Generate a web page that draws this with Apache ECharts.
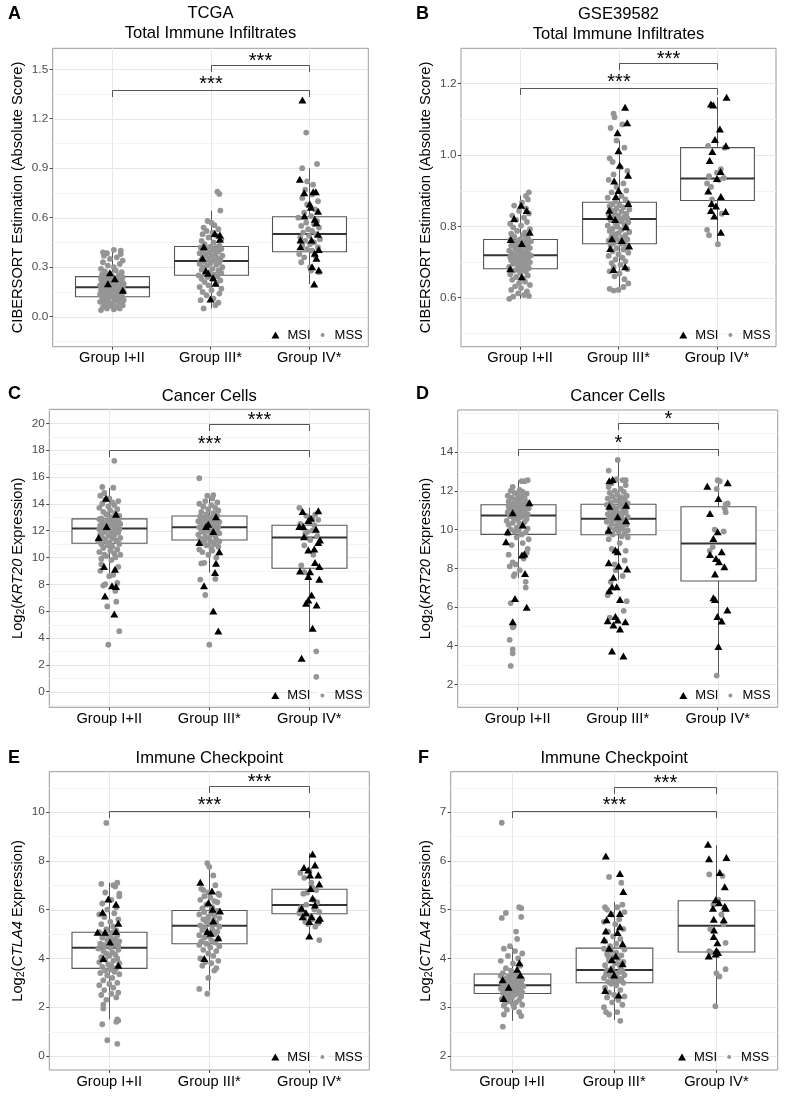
<!DOCTYPE html>
<html><head><meta charset="utf-8">
<script src="https://cdn.jsdelivr.net/npm/echarts@6/dist/echarts.min.js"></script>
<style>html,body{margin:0;padding:0;background:#fff}#c{width:792px;height:1102px}</style>
</head><body><div id="c"></div>
<script>
// ---------------- DATA ----------------
const CATEGORIES = ['Group I+II', 'Group III*', 'Group IV*'];
const LEGEND_NAMES = ['MSI', 'MSS'];

// y tick labels (major) and minor grid values
const A_TICKS = [0, 0.3, 0.6, 0.9, 1.2, 1.5];
const A_MINOR = [-0.15, 0.15, 0.45, 0.75, 1.05, 1.35];
const B_TICKS = [0.6, 0.8, 1.0, 1.2];
const B_MINOR = [0.5, 0.7, 0.9, 1.1];
const C_TICKS = [0, 2, 4, 6, 8, 10, 12, 14, 16, 18, 20];
const C_MINOR = [-1, 1, 3, 5, 7, 9, 11, 13, 15, 17, 19, 21];
const D_TICKS = [2, 4, 6, 8, 10, 12, 14];
const D_MINOR = [1, 3, 5, 7, 9, 11, 13, 15, 16];
const E_TICKS = [0, 2, 4, 6, 8, 10];
const E_MINOR = [1, 3, 5, 7, 9, 11];
const F_TICKS = [2, 3, 4, 5, 6, 7];
const F_MINOR = [2.5, 3.5, 4.5, 5.5, 6.5, 7.5];

// box statistics per group: [lower whisker, Q1, median, Q3, upper whisker]
const A_BOX = [[0.04, 0.121, 0.178, 0.243, 0.405], [0.05, 0.251, 0.338, 0.425, 0.643], [0.198, 0.394, 0.501, 0.606, 0.90]];
const B_BOX = [[0.597, 0.681, 0.719, 0.763, 0.886], [0.62, 0.751, 0.820, 0.867, 1.04], [0.749, 0.872, 0.934, 1.020, 1.161]];
const C_BOX = [[8.6, 11.06, 12.15, 12.87, 15.16], [8.87, 11.30, 12.25, 13.09, 14.6], [4.6, 9.19, 11.48, 12.40, 13.71]];
const D_BOX = [[7.5, 9.75, 10.73, 11.28, 12.55], [7.4, 9.73, 10.56, 11.31, 13.62], [2.48, 7.34, 9.28, 11.18, 12.55]];
const E_BOX = [[1.5, 3.59, 4.44, 5.07, 7.10], [2.68, 4.60, 5.34, 5.96, 7.90], [4.89, 5.83, 6.19, 6.83, 8.31]];
const F_BOX = [[2.72, 3.28, 3.45, 3.68, 4.25], [2.74, 3.50, 3.76, 4.21, 5.16], [3.01, 4.13, 4.67, 5.18, 6.32]];

// significance comparisons: [group from, group to, label]
const A_SIG = [[2, 3, '***'], [1, 3, '***']];
const B_SIG = [[2, 3, '***'], [1, 3, '***']];
const C_SIG = [[2, 3, '***'], [1, 3, '***']];
const D_SIG = [[2, 3, '*'], [1, 3, '*']];
const E_SIG = [[2, 3, '***'], [1, 3, '***']];
const F_SIG = [[2, 3, '***'], [1, 3, '***']];

// points: [group, jitter offset, value]
const A_MSI = [
[1,-0.02,0.267],[1,0.03,0.23],[1,0.11,0.16],[1,-0.04,0.20],
[2,0.044,0.505],[2,0.095,0.469],[2,-0.068,0.424],[2,-0.081,0.354],[2,-0.047,0.279],[2,0.027,0.236],[2,0.051,0.202],[2,0.0,0.107],[2,0.095,0.495],[2,-0.024,0.263],
[3,-0.068,1.314],[3,-0.095,0.833],[3,-0.05,0.752],[3,0.041,0.758],[3,0.068,0.758],[3,0.007,0.683],[3,0.017,0.663],[3,0.091,0.639],[3,-0.047,0.61],[3,0.057,0.59],[3,0.074,0.57],[3,0.091,0.499],[3,-0.088,0.465],[3,0.024,0.465],[3,-0.088,0.424],[3,0.098,0.408],[3,0.057,0.384],[3,0.074,0.354],[3,0.03,0.303],[3,0.098,0.283],[3,0.051,0.198]
];
const A_MSS = [
[1,-0.11,0.04],[1,0.02,0.045],[1,-0.05,0.05],[1,0.08,0.05],[1,-0.09,0.06],[1,0.05,0.06],[1,-0.02,0.065],[1,0.11,0.07],[1,-0.07,0.075],[1,0.01,0.08],[1,0.09,0.085],[1,-0.12,0.09],[1,-0.03,0.09],[1,0.06,0.095],[1,-0.08,0.10],[1,0.12,0.10],[1,0.03,0.105],[1,-0.05,0.11],[1,0.08,0.115],[1,-0.10,0.12],
[1,0.00,0.12],[1,0.10,0.125],[1,-0.06,0.13],[1,0.05,0.13],[1,-0.12,0.135],[1,-0.02,0.14],[1,0.07,0.14],[1,-0.09,0.145],[1,0.03,0.15],[1,0.12,0.15],[1,-0.04,0.155],[1,-0.11,0.16],[1,0.09,0.16],[1,0.01,0.165],[1,-0.07,0.17],[1,0.06,0.17],[1,-0.01,0.175],[1,0.11,0.175],[1,-0.10,0.18],[1,0.04,0.18],
[1,-0.05,0.185],[1,0.08,0.19],[1,-0.12,0.19],[1,0.02,0.195],[1,-0.08,0.20],[1,0.12,0.20],[1,-0.02,0.205],[1,0.06,0.21],[1,-0.10,0.21],[1,0.00,0.215],[1,0.10,0.22],[1,-0.06,0.22],[1,0.04,0.225],[1,-0.11,0.23],[1,-0.03,0.23],[1,0.08,0.235],[1,-0.08,0.235],[1,0.11,0.24],[1,0.01,0.24],[1,-0.05,0.245],
[1,0.07,0.25],[1,-0.10,0.255],[1,-0.01,0.26],[1,0.10,0.27],[1,-0.07,0.275],[1,0.04,0.28],[1,-0.11,0.29],[1,0.02,0.30],[1,-0.04,0.31],[1,0.08,0.32],[1,-0.09,0.33],[1,0.11,0.34],[1,-0.02,0.35],[1,0.05,0.36],[1,-0.08,0.37],[1,0.09,0.38],[1,-0.05,0.385],[1,-0.09,0.39],[1,0.09,0.40],[1,0.02,0.405],
[2,0.07,0.758],[2,0.09,0.744],[2,0.10,0.643],[2,-0.07,0.05],[2,0.08,0.085],[2,0.05,0.07],
[2,-0.10,0.10],[2,0.03,0.11],[2,-0.04,0.13],[2,0.09,0.14],[2,-0.08,0.15],[2,0.01,0.16],[2,0.11,0.17],[2,-0.11,0.18],[2,-0.02,0.19],[2,0.06,0.20],[2,-0.06,0.21],[2,0.10,0.22],[2,-0.09,0.23],[2,0.02,0.23],[2,-0.03,0.24],[2,0.07,0.245],
[2,-0.12,0.25],[2,0.04,0.255],[2,-0.05,0.26],[2,0.11,0.265],[2,-0.01,0.27],[2,0.08,0.28],[2,-0.09,0.285],[2,0.02,0.29],[2,-0.07,0.30],[2,0.12,0.30],[2,-0.03,0.31],[2,0.06,0.315],[2,-0.11,0.32],[2,0.00,0.325],[2,0.09,0.33],[2,-0.06,0.335],[2,0.04,0.34],[2,-0.10,0.34],
[2,0.10,0.345],[2,-0.02,0.35],[2,0.07,0.355],[2,-0.08,0.36],[2,0.01,0.365],[2,0.12,0.37],[2,-0.05,0.375],[2,0.05,0.38],[2,-0.11,0.385],[2,-0.01,0.39],[2,0.08,0.395],[2,-0.07,0.40],[2,0.03,0.405],[2,0.11,0.41],[2,-0.04,0.415],[2,0.06,0.42],[2,-0.10,0.42],[2,0.00,0.425],
[2,0.09,0.43],[2,-0.06,0.44],[2,0.03,0.45],[2,-0.09,0.46],[2,0.11,0.47],[2,-0.02,0.48],[2,0.06,0.49],[2,-0.08,0.50],[2,0.02,0.51],[2,-0.04,0.52],[2,0.08,0.53],[2,-0.07,0.54],[2,0.04,0.555],[2,0.01,0.57],[2,-0.03,0.58],
[3,-0.03,1.116],[3,0.08,0.926],[3,-0.07,0.90],[3,-0.02,0.82],[3,0.04,0.80],[3,-0.08,0.33],[3,0.10,0.27],[3,0.02,0.28],[3,-0.05,0.36],[3,0.06,0.37],[3,-0.10,0.38],[3,0.03,0.40],[3,-0.02,0.41],[3,0.09,0.42],[3,-0.07,0.43],[3,0.01,0.44],[3,0.05,0.45],[3,-0.04,0.46],[3,0.11,0.47],[3,-0.09,0.48],[3,0.00,0.49],[3,0.07,0.50],[3,-0.06,0.51],[3,0.03,0.52],[3,-0.01,0.53],[3,0.10,0.54],[3,-0.08,0.55],[3,0.05,0.56],[3,-0.03,0.57],[3,0.08,0.58],[3,-0.11,0.60],[3,0.02,0.61],[3,-0.05,0.63],[3,0.06,0.65],[3,-0.02,0.68],[3,0.09,0.70],[3,-0.07,0.72],[3,0.03,0.74],[3,-0.04,0.77],[3,0.01,0.30]
];

const B_MSI = [
[1,0.01,0.859],[1,0.067,0.844],[1,0.098,0.783],[1,-0.094,0.763],[1,0.017,0.752],[1,-0.10,0.681],[1,0.017,0.659],[1,-0.06,0.822],
[2,0.067,1.133],[2,0.088,1.090],[2,-0.01,1.062],[2,0.0,1.011],[2,0.013,0.971],[2,0.098,0.943],[2,-0.044,0.927],[2,0.0,0.900],[2,0.10,0.864],[2,-0.088,0.827],[2,-0.034,0.819],[2,0.074,0.799],[2,-0.067,0.765],[2,0.034,0.760],[2,0.108,0.745],[2,-0.084,0.738],[2,0.067,0.687],[2,-0.05,0.679],[2,-0.027,0.883],[2,-0.094,0.845],
[3,-0.061,1.142],[3,-0.037,1.139],[3,0.098,1.161],[3,0.03,1.072],[3,-0.02,1.043],[3,0.091,1.025],[3,-0.047,1.009],[3,-0.074,0.984],[3,0.037,0.953],[3,0.0,0.934],[3,-0.088,0.899],[3,0.04,0.883],[3,-0.054,0.864],[3,-0.01,0.857],[3,0.088,0.841],[3,-0.061,0.844],[3,-0.027,0.829],[3,0.04,0.783]
];
const B_MSS = [
[1,-0.11,0.597],[1,-0.07,0.603],[1,0.04,0.608],[1,0.09,0.605],[1,-0.02,0.612],[1,0.07,0.618],[1,-0.09,0.622],[1,0.01,0.627],[1,-0.05,0.632],[1,0.10,0.636],[1,-0.01,0.641],[1,0.05,0.645],[1,-0.08,0.65],[1,0.03,0.654],[1,-0.04,0.658],[1,0.08,0.662],[1,-0.10,0.666],[1,0.00,0.67],[1,0.06,0.673],[1,-0.06,0.676],[1,0.02,0.679],[1,-0.03,0.68],
[1,0.09,0.683],[1,-0.11,0.686],[1,0.04,0.688],[1,-0.02,0.69],[1,0.07,0.693],[1,-0.07,0.695],[1,0.01,0.697],[1,0.10,0.699],[1,-0.05,0.701],[1,0.05,0.703],[1,-0.09,0.705],[1,-0.01,0.707],[1,0.08,0.709],[1,-0.04,0.711],[1,0.03,0.713],[1,-0.10,0.714],[1,0.06,0.715],[1,0.00,0.716],[1,-0.06,0.717],[1,0.11,0.718],[1,0.02,0.719],[1,-0.03,0.72],
[1,0.09,0.722],[1,-0.08,0.724],[1,0.04,0.726],[1,-0.02,0.728],[1,0.07,0.73],[1,-0.11,0.732],[1,0.01,0.734],[1,-0.05,0.737],[1,0.10,0.739],[1,-0.01,0.741],[1,0.05,0.744],[1,-0.09,0.746],[1,0.02,0.748],[1,-0.04,0.75],[1,0.08,0.752],[1,-0.07,0.754],[1,0.03,0.756],[1,0.11,0.758],[1,-0.02,0.76],[1,0.06,0.761],[1,-0.10,0.762],[1,0.00,0.763],
[1,0.08,0.767],[1,-0.06,0.771],[1,0.03,0.775],[1,-0.09,0.779],[1,0.05,0.783],[1,-0.03,0.787],[1,0.10,0.792],[1,-0.07,0.797],[1,0.01,0.802],[1,-0.10,0.807],[1,0.07,0.812],[1,-0.04,0.818],[1,0.04,0.824],[1,-0.08,0.83],[1,0.09,0.836],[1,-0.01,0.843],[1,0.06,0.85],[1,-0.06,0.858],[1,0.02,0.866],[1,0.08,0.875],[1,0.06,0.885],[1,0.09,0.895],
[2,-0.05,1.115],[2,-0.04,1.105],[2,-0.08,1.075],[2,0.04,1.085],[2,-0.06,0.98],[2,-0.02,1.04],[2,0.06,1.02],[2,-0.09,0.99],[2,0.02,0.965],[2,0.09,0.955],[2,-0.05,0.945],[2,-0.10,0.93],[2,0.05,0.92],[2,-0.02,0.91],[2,0.08,0.90],[2,-0.07,0.895],[2,0.03,0.885],[2,-0.11,0.88],[2,0.07,0.875],[2,-0.03,0.87],
[2,0.10,0.865],[2,-0.06,0.862],[2,0.01,0.859],[2,-0.09,0.856],[2,0.05,0.853],[2,-0.02,0.85],[2,0.11,0.847],[2,-0.07,0.844],[2,0.03,0.841],[2,-0.04,0.838],[2,0.08,0.835],[2,-0.10,0.832],[2,0.00,0.829],[2,0.06,0.826],[2,-0.05,0.824],[2,0.09,0.822],[2,-0.01,0.821],[2,0.04,0.82],
[2,-0.08,0.817],[2,0.02,0.814],[2,0.10,0.811],[2,-0.03,0.808],[2,0.06,0.805],[2,-0.11,0.802],[2,-0.01,0.799],[2,0.08,0.796],[2,-0.06,0.793],[2,0.03,0.79],[2,-0.09,0.787],[2,0.11,0.784],[2,0.00,0.781],[2,-0.04,0.778],[2,0.07,0.775],[2,-0.07,0.772],[2,0.04,0.769],[2,-0.02,0.766],[2,0.09,0.763],[2,-0.10,0.76],[2,0.01,0.757],[2,0.06,0.755],[2,-0.05,0.753],[2,0.03,0.751],
[2,-0.08,0.747],[2,0.08,0.743],[2,-0.02,0.739],[2,0.05,0.735],[2,-0.06,0.73],[2,0.10,0.726],[2,0.00,0.722],[2,-0.10,0.717],[2,0.04,0.712],[2,-0.03,0.707],[2,0.07,0.702],[2,-0.07,0.697],[2,0.02,0.692],[2,-0.05,0.686],[2,0.09,0.68],[2,-0.09,0.674],[2,0.01,0.668],[2,-0.04,0.66],[2,0.06,0.652],[2,0.10,0.64],[2,0.05,0.63],[2,-0.09,0.625],[2,-0.05,0.62],[2,0.0,0.622],
[3,-0.09,1.025],[3,0.08,1.02],[3,-0.08,0.94],[3,0.0,0.95],[3,0.07,0.935],[3,-0.10,0.92],[3,-0.05,0.875],[3,0.05,0.835],[3,-0.10,0.79],[3,-0.08,0.775],[3,0.01,0.75],[3,0.02,0.93],[3,-0.06,0.91],[3,0.04,0.96]
];

const C_MSI = [
[1,-0.107,11.48],[1,-0.033,14.41],[1,0.067,13.22],[1,-0.053,9.32],[1,0.057,9.12],[1,0.027,7.88],[1,0.067,7.83],[1,-0.043,7.13],[1,0.05,5.79],[1,-0.027,12.3],
[2,-0.01,12.47],[2,-0.10,11.11],[2,0.067,13.04],[2,0.04,11.93],[2,0.10,10.43],[2,0.067,9.57],[2,0.057,8.87],[2,-0.053,7.88],[2,0.04,6.01],[2,0.09,4.52],[2,-0.033,12.3],
[3,-0.067,13.42],[3,0.09,13.47],[3,0.017,12.92],[3,-0.01,12.75],[3,-0.10,12.30],[3,-0.06,12.30],[3,0.067,12.10],[3,-0.053,11.55],[3,0.107,11.30],[3,0.09,11.11],[3,-0.01,10.56],[3,0.05,10.63],[3,0.057,9.62],[3,0.10,9.32],[3,-0.093,8.99],[3,-0.01,8.57],[3,0.007,8.94],[3,0.10,8.37],[3,0.023,7.20],[3,-0.01,6.83],[3,-0.033,6.58],[3,0.073,6.46],[3,0.033,4.72],[3,-0.077,2.48]
];
const C_MSS = [
[1,0.05,17.2],[1,-0.01,3.5],[1,0.10,4.5],[1,0.07,6.7],[1,-0.02,6.35],[1,0.08,8.1],[1,-0.06,7.9],[1,0.04,15.2],[1,-0.07,15.25],[1,-0.05,14.8],[1,0.02,9.8],[1,-0.08,9.9],[1,-0.08,9.5],[1,0.0,8.6],[1,0.04,8.7],[1,0.09,9.3],[1,-0.04,8.0],[1,0.06,7.5],[1,-0.09,9.0],[1,0.11,10.2],
[1,-0.03,10.1],[1,0.05,10.3],[1,-0.10,10.4],[1,0.01,10.5],[1,0.08,10.6],[1,-0.06,10.7],[1,0.03,10.8],[1,-0.02,10.9],[1,0.10,11.0],[1,-0.08,11.0],[1,0.06,10.0],[1,-0.05,10.2],
[1,0.00,11.1],[1,-0.11,11.2],[1,0.07,11.25],[1,-0.04,11.3],[1,0.03,11.4],[1,0.11,11.45],[1,-0.07,11.5],[1,-0.01,11.6],[1,0.05,11.65],[1,-0.09,11.7],[1,0.02,11.8],[1,0.09,11.85],[1,-0.05,11.9],[1,0.06,12.0],[1,-0.02,12.05],[1,0.10,12.1],[1,-0.10,12.1],[1,0.01,12.15],
[1,-0.06,12.2],[1,0.04,12.25],[1,-0.03,12.3],[1,0.08,12.35],[1,-0.09,12.4],[1,0.00,12.45],[1,0.11,12.5],[1,-0.04,12.55],[1,0.06,12.6],[1,-0.07,12.65],[1,0.02,12.7],[1,0.09,12.75],[1,-0.01,12.8],[1,-0.10,12.85],[1,0.05,12.85],[1,-0.05,12.3],[1,0.03,12.5],[1,0.07,12.7],
[1,-0.08,12.9],[1,0.02,13.0],[1,0.10,13.1],[1,-0.03,13.2],[1,0.06,13.3],[1,-0.06,13.4],[1,0.01,13.5],[1,0.08,13.6],[1,-0.10,13.7],[1,-0.01,13.8],[1,0.05,13.9],[1,-0.07,14.0],[1,0.03,14.1],[1,0.09,14.2],[1,-0.04,14.3],[1,0.00,14.4],[1,-0.09,14.6],[1,0.06,13.0],
[2,-0.10,15.9],[2,0.0,3.5],[2,-0.09,8.35],[2,-0.04,7.2],[2,0.06,8.4],[2,-0.08,9.55],[2,-0.05,9.6],[2,0.04,14.65],[2,-0.02,14.6],[2,0.07,10.0],[2,-0.07,10.4],[2,0.02,10.7],
[2,-0.10,10.6],[2,0.09,10.8],[2,-0.03,10.9],[2,0.05,11.0],[2,-0.08,11.1],[2,0.01,11.15],[2,0.10,11.2],[2,-0.05,11.25],[2,0.03,10.5],[2,-0.01,10.2],
[2,0.07,11.35],[2,-0.09,11.4],[2,0.00,11.5],[2,-0.04,11.55],[2,0.06,11.6],[2,-0.11,11.7],[2,0.03,11.75],[2,0.10,11.8],[2,-0.06,11.9],[2,-0.01,11.95],[2,0.08,12.0],[2,-0.08,12.05],[2,0.02,12.1],[2,-0.03,12.15],[2,0.05,12.2],[2,-0.10,12.25],
[2,0.09,12.3],[2,-0.05,12.35],[2,0.01,12.4],[2,-0.08,12.5],[2,0.06,12.55],[2,-0.02,12.6],[2,0.10,12.65],[2,-0.11,12.7],[2,0.03,12.75],[2,-0.04,12.8],[2,0.07,12.85],[2,-0.07,12.9],[2,0.00,12.95],[2,0.05,13.0],[2,-0.09,13.05],[2,0.08,13.1],
[2,-0.03,13.2],[2,0.04,13.3],[2,-0.08,13.4],[2,0.09,13.5],[2,-0.01,13.6],[2,0.06,13.7],[2,-0.06,13.8],[2,0.02,13.9],[2,-0.10,14.0],[2,0.08,14.1],[2,-0.04,14.2],[2,0.03,14.4],
[3,0.07,3.0],[3,0.07,1.1],[3,-0.08,9.4],[3,-0.05,8.9],[3,-0.10,13.7],[3,0.06,13.2],[3,0.03,12.0],[3,-0.04,11.8],[3,0.0,12.6],[3,0.05,12.4],[3,-0.07,12.2],[3,0.08,11.6],[3,-0.02,11.9],[3,0.03,12.9],[3,-0.03,13.1],[3,0.09,12.8],[3,-0.09,12.5],[3,0.01,11.3],[3,-0.05,10.9],[3,0.04,10.2]
];

const D_MSI = [
[1,0.117,11.38],[1,-0.05,10.87],[1,0.05,10.23],[1,-0.10,9.89],[1,-0.117,9.37],[1,0.067,8.73],[1,0.043,8.68],[1,0.073,7.73],[1,-0.027,6.44],[1,-0.05,5.24],[1,0.09,5.98],
[2,-0.05,12.59],[2,-0.084,12.52],[2,-0.084,11.21],[2,0.084,10.45],[2,-0.09,9.97],[2,-0.023,8.94],[2,0.0,8.85],[2,0.01,8.11],[2,0.094,7.96],[2,-0.09,8.28],[2,-0.043,7.53],[2,-0.057,7.04],[2,-0.01,7.04],[2,-0.084,6.84],[2,0.023,6.39],[2,-0.023,5.50],[2,-0.10,5.29],[2,0.0,5.32],[2,0.077,5.24],[2,-0.043,5.06],[2,0.023,4.86],[2,-0.057,3.72],[2,0.057,3.46],[2,0.0,10.66],[2,0.084,11.26],
[3,-0.104,12.24],[3,0.10,12.42],[3,0.007,11.61],[3,-0.077,10.83],[3,0.0,9.89],[3,-0.043,9.54],[3,0.04,8.85],[3,-0.077,8.71],[3,-0.017,8.51],[3,0.013,8.34],[3,0.067,8.08],[3,-0.027,7.70],[3,-0.043,6.48],[3,-0.027,6.39],[3,0.097,5.84],[3,-0.003,5.50],[3,0.04,5.27],[3,0.007,3.95]
];
const D_MSS = [
[1,-0.07,2.95],[1,-0.05,3.6],[1,-0.05,3.8],[1,-0.08,4.3],[1,-0.05,4.95],[1,-0.04,5.0],[1,-0.07,6.2],[1,0.08,7.0],[1,0.08,7.3],[1,-0.04,7.6],[1,-0.03,7.7],[1,-0.05,8.3],[1,-0.08,8.1],[1,0.10,9.0],[1,0.09,8.8],[1,-0.02,8.2],[1,0.06,8.5],[1,-0.09,8.7],[1,0.02,7.9],[1,0.05,9.3],[1,-0.06,9.2],[1,0.11,9.5],[1,-0.01,9.6],
[1,0.04,9.75],[1,-0.10,9.8],[1,0.08,9.85],[1,-0.03,9.9],[1,0.01,9.95],[1,-0.07,10.0],[1,0.10,10.05],[1,-0.01,10.1],[1,0.05,10.2],[1,-0.09,10.25],[1,0.02,10.3],[1,-0.05,10.35],[1,0.07,10.4],[1,-0.11,10.45],[1,0.00,10.5],[1,0.09,10.55],[1,-0.04,10.6],[1,0.03,10.65],[1,-0.08,10.7],[1,0.06,10.72],
[1,-0.02,10.75],[1,0.10,10.8],[1,-0.06,10.82],[1,0.04,10.85],[1,-0.10,10.9],[1,0.01,10.92],[1,0.07,10.95],[1,-0.03,11.0],[1,-0.08,11.02],[1,0.05,11.05],[1,-0.01,11.08],[1,0.11,11.1],[1,-0.05,11.12],[1,0.02,11.15],[1,-0.09,11.18],[1,0.08,11.2],[1,-0.02,11.22],[1,0.04,11.25],[1,-0.07,11.27],[1,0.00,11.28],
[1,0.06,11.32],[1,-0.04,11.36],[1,0.10,11.4],[1,-0.09,11.45],[1,0.02,11.5],[1,-0.02,11.55],[1,0.07,11.6],[1,-0.06,11.65],[1,0.04,11.7],[1,-0.10,11.75],[1,0.00,11.8],[1,0.09,11.85],[1,-0.03,11.9],[1,0.05,11.95],[1,-0.07,12.0],[1,0.02,12.05],[1,-0.05,12.2],[1,0.04,12.5],[1,0.07,12.5],[1,0.10,12.55],
[2,-0.10,6.6],[2,-0.09,6.75],[2,-0.08,5.45],[2,0.06,5.8],[2,0.07,8.4],[2,0.10,9.6],[2,-0.07,7.3],[2,0.05,7.6],[2,-0.03,8.2],[2,0.08,8.9],[2,-0.06,9.0],[2,0.02,9.3],[2,-0.09,9.5],[2,0.04,9.65],[2,-0.02,7.9],[2,0.09,6.3],
[2,-0.05,9.75],[2,0.07,9.8],[2,-0.10,9.85],[2,0.01,9.9],[2,0.10,9.95],[2,-0.03,10.0],[2,0.05,10.05],[2,-0.08,10.1],[2,0.02,10.15],[2,-0.01,10.2],[2,0.09,10.25],[2,-0.06,10.3],[2,0.04,10.35],[2,-0.11,10.4],[2,0.00,10.45],[2,0.08,10.5],[2,-0.04,10.52],[2,0.03,10.55],[2,-0.08,10.56],[2,0.06,10.3],
[2,-0.02,10.6],[2,0.10,10.65],[2,-0.07,10.7],[2,0.04,10.75],[2,-0.10,10.8],[2,0.01,10.85],[2,0.08,10.9],[2,-0.04,10.95],[2,0.06,11.0],[2,-0.08,11.05],[2,-0.01,11.1],[2,0.09,11.15],[2,-0.05,11.2],[2,0.03,11.25],[2,-0.11,11.28],[2,0.07,11.3],[2,0.00,10.7],[2,-0.06,11.0],[2,0.05,11.1],[2,-0.03,10.8],
[2,0.10,11.35],[2,-0.07,11.4],[2,0.02,11.45],[2,-0.02,11.5],[2,0.07,11.55],[2,-0.10,11.6],[2,0.04,11.65],[2,-0.05,11.7],[2,0.09,11.75],[2,0.00,11.8],[2,-0.08,11.9],[2,0.06,11.95],[2,-0.03,12.0],[2,0.03,12.1],[2,-0.09,12.2],[2,0.08,12.3],[2,-0.06,12.4],[2,0.05,12.55],[2,0.08,12.55],[2,0.0,13.6],[2,-0.09,13.05],[2,-0.01,12.6],
[3,0.0,12.55],[3,0.02,12.5],[3,-0.01,12.1],[3,0.10,11.35],[3,0.08,11.3],[3,0.07,11.1],[3,0.08,10.9],[3,-0.03,10.0],[3,-0.05,9.1],[3,0.06,9.9],[3,-0.01,2.45],[3,-0.08,8.9]
];

const E_MSI = [
[1,-0.01,6.43],[1,0.067,6.22],[1,-0.067,5.89],[1,0.09,5.44],[1,-0.117,5.07],[1,-0.043,5.07],[1,0.067,5.10],[1,0.007,4.67],[1,-0.06,4.00],[1,0.09,3.72],
[2,-0.09,7.12],[2,0.027,6.76],[2,-0.01,6.28],[2,0.033,6.01],[2,0.107,5.94],[2,0.04,5.53],[2,-0.02,5.10],[2,0.013,5.03],[2,0.09,4.85],[2,-0.05,4.00],
[3,0.033,8.28],[3,-0.053,7.72],[3,0.057,7.83],[3,-0.01,7.62],[3,0.09,7.42],[3,0.007,7.42],[3,0.10,7.05],[3,0.013,6.86],[3,0.033,6.46],[3,-0.077,6.05],[3,0.057,6.19],[3,-0.033,5.87],[3,0.023,5.71],[3,0.09,5.57],[3,0.0,5.51],[3,0.107,5.64],[3,-0.067,5.71],[3,0.0,4.92]
];
const E_MSS = [
[1,-0.03,9.55],[1,-0.07,1.3],[1,-0.02,0.65],[1,0.08,0.5],[1,0.07,1.4],[1,0.08,1.5],[1,0.09,1.45],[1,-0.06,1.95],[1,-0.06,2.1],[1,0.08,7.1],[1,0.04,7.0],[1,-0.08,7.05],[1,0.10,6.65],[1,-0.10,5.8],
[1,-0.03,2.3],[1,0.07,2.4],[1,-0.08,2.5],[1,0.02,2.55],[1,0.09,2.6],[1,-0.05,2.7],[1,0.04,2.8],[1,-0.10,2.9],[1,0.00,2.95],[1,0.08,3.0],[1,-0.06,3.1],[1,0.03,3.2],[1,-0.02,3.3],[1,0.10,3.35],[1,-0.09,3.4],[1,0.05,3.45],[1,-0.04,3.5],[1,0.01,3.55],
[1,0.07,3.6],[1,-0.07,3.65],[1,0.02,3.7],[1,-0.01,3.75],[1,0.10,3.8],[1,-0.10,3.85],[1,0.04,3.9],[1,-0.04,3.95],[1,0.08,4.0],[1,-0.08,4.05],[1,0.00,4.1],[1,0.06,4.15],[1,-0.03,4.2],[1,0.03,4.25],[1,-0.06,4.3],[1,0.09,4.35],[1,-0.11,4.4],[1,0.01,4.44],
[1,-0.05,4.5],[1,0.05,4.55],[1,-0.09,4.6],[1,0.02,4.65],[1,0.10,4.7],[1,-0.02,4.75],[1,0.06,4.8],[1,-0.07,4.85],[1,0.00,4.9],[1,0.08,4.95],[1,-0.04,5.0],[1,0.03,5.05],[1,-0.10,5.07],[1,0.05,4.6],[1,-0.01,4.7],[1,0.09,4.5],[1,-0.06,4.55],[1,0.01,4.85],
[1,0.07,5.15],[1,-0.03,5.2],[1,0.04,5.3],[1,-0.08,5.4],[1,0.01,5.5],[1,0.09,5.6],[1,-0.05,5.7],[1,0.05,5.85],[1,-0.02,6.0],[1,0.07,6.1],[1,-0.07,6.25],[1,0.02,6.4],[1,0.10,6.55],[1,-0.04,6.7],[1,0.06,6.95],
[2,-0.02,7.9],[2,0.0,7.75],[2,0.04,7.4],[2,-0.10,2.75],[2,-0.02,2.55],[2,-0.01,3.2],[2,-0.08,6.85],[2,0.09,6.65],[2,-0.06,6.8],[2,0.06,7.0],
[2,0.07,3.6],[2,-0.07,3.7],[2,0.02,3.8],[2,-0.04,3.85],[2,0.09,3.9],[2,-0.09,4.0],[2,0.04,4.1],[2,-0.01,4.2],[2,0.07,4.3],[2,-0.06,4.35],[2,0.01,4.45],[2,0.10,4.5],[2,-0.10,4.55],[2,0.05,3.5],
[2,-0.03,4.6],[2,0.06,4.65],[2,-0.08,4.7],[2,0.02,4.75],[2,0.09,4.8],[2,-0.05,4.85],[2,0.00,4.9],[2,-0.10,4.95],[2,0.05,5.0],[2,-0.02,5.05],[2,0.08,5.1],[2,-0.07,5.15],[2,0.03,5.2],[2,-0.04,5.25],[2,0.10,5.3],
[2,-0.09,5.35],[2,0.01,5.4],[2,0.07,5.45],[2,-0.03,5.5],[2,0.04,5.55],[2,-0.06,5.6],[2,0.10,5.65],[2,-0.01,5.7],[2,0.05,5.75],[2,-0.10,5.8],[2,0.02,5.85],[2,-0.05,5.9],[2,0.08,5.95],[2,-0.02,5.6],[2,0.06,5.4],
[2,-0.07,6.05],[2,0.03,6.1],[2,-0.03,6.2],[2,0.08,6.3],[2,-0.09,6.4],[2,0.01,6.5],[2,0.10,6.6],[2,-0.05,6.55],[2,0.05,6.35],[2,-0.01,6.7],
[3,0.0,7.6],[3,-0.09,7.5],[3,-0.05,7.3],[3,0.02,7.1],[3,-0.06,6.65],[3,0.08,6.3],[3,-0.08,6.1],[3,0.05,6.0],[3,-0.03,6.2],[3,0.10,5.9],[3,-0.10,5.85],[3,0.03,5.6],[3,-0.04,5.5],[3,0.06,5.3],[3,0.10,4.75],[3,-0.02,6.7],[3,0.04,6.4],[3,-0.07,5.9],[3,0.01,5.75],[3,-0.01,5.4],[3,0.07,6.8],[3,-0.09,6.0],[3,0.09,5.45],[3,-0.05,5.65],[3,0.03,6.9]
];

const F_MSI = [
[1,0.05,3.78],[1,0.082,3.66],[1,0.072,3.91],[1,-0.092,3.56],[1,-0.033,3.41],[1,-0.082,3.18],
[2,-0.082,6.10],[2,0.056,5.74],[2,0.089,5.37],[2,-0.033,4.92],[2,0.056,4.92],[2,-0.075,4.79],[2,0.056,4.65],[2,-0.082,4.56],[2,0.033,4.53],[2,-0.098,4.38],[2,0.082,4.30],[2,-0.049,4.21],[2,0.016,4.05],[2,-0.023,3.97],[2,0.082,3.89],[2,-0.033,3.78],[2,0.0,3.66],[2,-0.089,3.34],[2,0.043,3.25],
[3,-0.082,6.34],[3,-0.072,6.04],[3,0.098,6.07],[3,0.033,5.76],[3,0.082,5.47],[3,-0.007,5.20],[3,0.026,5.14],[3,0.082,5.07],[3,0.092,5.03],[3,-0.033,5.03],[3,-0.026,4.80],[3,0.072,4.79],[3,-0.023,4.58],[3,-0.026,4.45],[3,0.01,4.32],[3,0.0,4.16],[3,0.016,4.12],[3,-0.075,4.05],[3,-0.007,4.09]
];
const F_MSS = [
[1,-0.10,6.78],[1,-0.10,4.83],[1,-0.06,4.93],[1,0.07,5.05],[1,0.09,5.03],[1,0.09,4.85],[1,0.04,4.55],[1,0.05,4.4],[1,-0.09,2.6],[1,0.09,2.82],[1,-0.08,2.85],[1,0.07,2.9],[1,-0.05,2.95],[1,0.02,3.0],[1,-0.02,4.25],[1,-0.08,4.2],[1,0.03,4.15],[1,0.10,4.1],[1,-0.04,4.05],[1,0.06,4.0],[1,-0.11,3.95],[1,0.01,3.9],[1,0.08,3.85],[1,-0.06,3.8],[1,-0.01,3.75],[1,0.05,3.72],[1,-0.09,3.7],
[1,0.10,3.05],[1,-0.07,3.08],[1,0.04,3.1],[1,-0.03,3.12],[1,0.07,3.15],[1,-0.10,3.17],[1,0.00,3.2],[1,0.09,3.22],[1,-0.05,3.24],[1,0.03,3.26],[1,-0.01,3.27],[1,0.06,3.28],[1,-0.08,3.03],[1,0.01,3.06],[1,-0.04,3.18],
[1,-0.09,3.29],[1,0.02,3.3],[1,0.10,3.31],[1,-0.04,3.32],[1,0.05,3.33],[1,-0.07,3.34],[1,0.00,3.35],[1,0.08,3.36],[1,-0.02,3.37],[1,-0.11,3.38],[1,0.04,3.39],[1,-0.05,3.4],[1,0.07,3.41],[1,-0.01,3.42],[1,0.11,3.43],[1,-0.08,3.44],
[1,0.03,3.46],[1,-0.03,3.47],[1,0.09,3.48],[1,-0.10,3.5],[1,0.01,3.51],[1,0.06,3.52],[1,-0.06,3.54],[1,-0.01,3.55],[1,0.10,3.57],[1,-0.08,3.58],[1,0.04,3.6],[1,-0.04,3.61],[1,0.07,3.63],[1,-0.11,3.64],[1,0.00,3.66],[1,0.05,3.68],
[2,-0.05,5.67],[2,0.07,5.55],[2,0.08,5.1],[2,-0.09,5.05],[2,-0.08,2.9],[2,-0.05,2.85],[2,0.06,2.72],[2,0.03,2.9],[2,-0.07,5.0],[2,0.03,5.05],[2,0.10,4.95],[2,-0.02,4.9],[2,0.05,4.8],[2,-0.10,4.75],[2,0.01,4.7],[2,0.09,4.6],[2,-0.06,4.55],[2,-0.01,4.45],[2,0.06,4.4],[2,-0.09,4.35],[2,0.02,4.3],[2,-0.04,4.25],[2,-0.10,3.0],[2,0.08,3.05],[2,-0.02,3.1],[2,0.04,3.15],[2,-0.07,3.2],[2,0.10,3.22],[2,0.00,3.25],[2,-0.05,3.3],[2,0.06,3.35],[2,-0.09,3.4],[2,0.02,3.45],[2,-0.03,3.48],
[2,0.09,3.5],[2,-0.06,3.52],[2,0.04,3.54],[2,-0.01,3.56],[2,0.07,3.58],[2,-0.10,3.6],[2,0.02,3.62],[2,-0.04,3.64],[2,0.10,3.66],[2,-0.08,3.68],[2,0.00,3.7],[2,0.05,3.72],[2,-0.03,3.74],[2,0.08,3.75],[2,-0.07,3.76],[2,0.03,3.6],
[2,-0.02,3.8],[2,0.06,3.83],[2,-0.09,3.86],[2,0.01,3.9],[2,0.09,3.93],[2,-0.05,3.96],[2,0.04,4.0],[2,-0.01,4.03],[2,0.07,4.06],[2,-0.07,4.09],[2,0.02,4.12],[2,-0.03,4.15],[2,0.10,4.18],[2,-0.10,4.2],[2,0.05,3.88],[2,-0.06,4.05],
[3,-0.07,5.72],[3,0.06,5.69],[3,0.09,4.32],[3,-0.07,4.15],[3,0.0,3.7],[3,0.09,3.78],[3,0.03,3.63],[3,-0.01,3.02],[3,-0.05,4.12],[3,0.02,5.2],[3,-0.06,4.6],[3,0.05,4.9],[3,-0.03,5.1],[3,0.07,4.7]
];

// ---------------- LAYOUT ----------------
const FONT = '"Liberation Sans", Arial, Helvetica, sans-serif';
const CIB_NAME = 'CIBERSORT Estimation (Absolute Score)';
const geneName = g => '{a|Log}{b|2}{a|(}{c|' + g + '}{a| Expression)}';

const PANELS = [
  {letter:'A', letterPos:[8,5], grid:[52.7,48.3,315.6,298.4], y:[-0.182,1.627], dec:1, title:'TCGA\nTotal Immune Infiltrates', titleTop:3.3,
   yName:CIB_NAME, nameGap:27, legendPos:[271.5,328.5], bars:[1.526,1.375],
   ticks:A_TICKS, minor:A_MINOR, box:A_BOX, msi:A_MSI, mss:A_MSS, sig:A_SIG},
  {letter:'B', letterPos:[416,5], grid:[461,48.3,315,298.4], y:[0.463,1.298], dec:1, title:'GSE39582\nTotal Immune Infiltrates', titleTop:4,
   yName:CIB_NAME, nameGap:27.5, legendPos:[679.3,328.5], bars:[1.256,1.186],
   ticks:B_TICKS, minor:B_MINOR, box:B_BOX, msi:B_MSI, mss:B_MSS, sig:B_SIG},
  {letter:'C', letterPos:[8,385], grid:[49.3,409.3,320,298], y:[-1.17,21.04], dec:0, title:'Cancer Cells', titleTop:386,
   yName:geneName('KRT20'), nameGap:22.3, legendPos:[271.3,689], bars:[19.95,17.99],
   ticks:C_TICKS, minor:C_MINOR, box:C_BOX, msi:C_MSI, mss:C_MSS, sig:C_SIG},
  {letter:'D', letterPos:[416,385], grid:[457.7,410,320,297.3], y:[0.812,16.18], dec:0, title:'Cancer Cells', titleTop:386,
   yName:geneName('KRT20'), nameGap:22.7, legendPos:[679.3,689], bars:[15.52,14.16],
   ticks:D_TICKS, minor:D_MINOR, box:D_BOX, msi:D_MSI, mss:D_MSS, sig:D_SIG},
  {letter:'E', letterPos:[8,749], grid:[49.3,771.7,320,298.3], y:[-0.574,11.65], dec:0, title:'Immune Checkpoint', titleTop:748.3,
   yName:geneName('CTLA4'), nameGap:22.3, legendPos:[271.3,1050.5], bars:[11.08,10.03],
   ticks:E_TICKS, minor:E_MINOR, box:E_BOX, msi:E_MSI, mss:E_MSS, sig:E_SIG},
  {letter:'F', letterPos:[418,749], grid:[450.7,771.7,327,298.3], y:[1.713,7.826], dec:0, title:'Immune Checkpoint', titleTop:748.3,
   yName:geneName('CTLA4'), nameGap:15.7, legendPos:[678,1050.5], bars:[7.51,7.02],
   ticks:F_TICKS, minor:F_MINOR, box:F_BOX, msi:F_MSI, mss:F_MSS, sig:F_SIG}
];

const LABEL_LIFT = [3.9, 6.1];

const option = {
  animation: false,
  textStyle: {fontFamily: FONT},
  title: [], grid: [], xAxis: [], yAxis: [], legend: [], series: []
};

PANELS.forEach((P, i) => {
  const cx = P.grid[0] + P.grid[2] / 2;
  option.title.push({text: P.title, left: cx, top: P.titleTop, textAlign: 'center', padding: 0,
    textStyle: {fontSize: 16.6, fontWeight: 'normal', color: '#000', lineHeight: 20, fontFamily: FONT}});
  option.title.push({text: P.letter, left: P.letterPos[0], top: P.letterPos[1], padding: 0,
    textStyle: {fontSize: 18, fontWeight: 'bold', color: '#000', fontFamily: FONT}});
  option.grid.push({left: P.grid[0], top: P.grid[1], width: P.grid[2], height: P.grid[3],
    show: true, borderColor: '#9a9a9a', borderWidth: 1, backgroundColor: '#fff', containLabel: false, outerBoundsMode: 'none'});
  option.xAxis.push({type: 'value', gridIndex: i, min: 0.4, max: 3.6, position: 'bottom',
    axisLine: {show: false, onZero: false}, splitLine: {show: false}, minorSplitLine: {show: false},
    axisTick: {show: true, customValues: [1, 2, 3], length: 3, lineStyle: {color: '#444'}},
    axisLabel: {customValues: [1, 2, 3], formatter: v => CATEGORIES[Math.round(v) - 1], fontSize: 14.7, color: '#000', margin: 4, fontFamily: FONT}});
  option.yAxis.push({type: 'value', gridIndex: i, min: P.y[0], max: P.y[1], position: 'left',
    axisLine: {show: false, onZero: false}, splitLine: {show: false},
    axisTick: {show: true, customValues: P.ticks, length: 3, lineStyle: {color: '#444'}},
    axisLabel: {customValues: P.ticks, formatter: v => v.toFixed(P.dec), fontSize: 11.8, color: '#4d4d4d', margin: 4.5, fontFamily: FONT},
    name: P.yName, nameLocation: 'middle', nameGap: P.nameGap,
    nameTextStyle: {fontSize: 14.7, color: '#000', fontFamily: FONT,
      rich: {a: {fontSize: 14.6, lineHeight: 18, color: '#000', fontFamily: FONT},
             b: {fontSize: 10.5, lineHeight: 10, verticalAlign: 'bottom', color: '#000', fontFamily: FONT},
             c: {fontSize: 14.6, lineHeight: 18, fontStyle: 'italic', color: '#000', fontFamily: FONT}}}});
  option.legend.push({left: P.legendPos[0], top: P.legendPos[1], padding: 0, orient: 'horizontal',
    itemWidth: 8, itemHeight: 7, itemGap: 7, selectedMode: false,
    textStyle: {fontSize: 13, color: '#000', fontFamily: FONT, padding: [0, 0, 0, 3]},
    data: [{name: LEGEND_NAMES[0], icon: 'triangle', itemStyle: {color: '#000'}},
           {name: LEGEND_NAMES[1], icon: 'circle', itemStyle: {color: '#959595', borderColor: '#fff', borderWidth: 3}}]});

  // grid lines (major, minor, vertical at categories)
  const ymid = (P.y[0] + P.y[1]) / 2;
  const gl = [];
  P.ticks.forEach(t => gl.push([2, t, 0]));
  P.minor.forEach(t => gl.push([2, t, 1]));
  [1, 2, 3].forEach(c => gl.push([c, ymid, 2]));
  option.series.push({type: 'custom', xAxisIndex: i, yAxisIndex: i, z: 0, silent: true, data: gl,
    renderItem: (params, api) => {
      const cs = params.coordSys;
      const kind = api.value(2);
      const p = api.coord([api.value(0), api.value(1)]);
      if (kind === 2) {
        const x = Math.round(p[0]) + 0.5;
        return {type: 'line', shape: {x1: x, y1: cs.y, x2: x, y2: cs.y + cs.height}, style: {stroke: '#e8e8e8', lineWidth: 1}};
      }
      const y = Math.round(p[1]) + 0.5;
      return {type: 'line', shape: {x1: cs.x, y1: y, x2: cs.x + cs.width, y2: y},
        style: {stroke: kind === 0 ? '#e6e6e6' : '#f3f3f3', lineWidth: 1}};
    }});

  // boxes
  option.series.push({type: 'custom', xAxisIndex: i, yAxisIndex: i, z: 1, silent: true,
    data: P.box.map((b, g) => [g + 1].concat(b)),
    renderItem: (params, api) => {
      const x = api.value(0);
      const pMin = api.coord([x, api.value(1)]), pQ1 = api.coord([x, api.value(2)]),
            pMed = api.coord([x, api.value(3)]), pQ3 = api.coord([x, api.value(4)]), pMax = api.coord([x, api.value(5)]);
      const half = api.size([0.75, 0])[0] / 2;
      const px = Math.round(pMed[0]) + 0.5;
      return {type: 'group', children: [
        {type: 'line', shape: {x1: px, y1: pQ3[1], x2: px, y2: pMax[1]}, style: {stroke: '#555', lineWidth: 1}},
        {type: 'line', shape: {x1: px, y1: pQ1[1], x2: px, y2: pMin[1]}, style: {stroke: '#555', lineWidth: 1}},
        {type: 'rect', shape: {x: px - half, y: pQ3[1], width: half * 2, height: pQ1[1] - pQ3[1]},
          style: {fill: '#fff', stroke: '#555', lineWidth: 1.1}},
        {type: 'line', shape: {x1: px - half, y1: pMed[1], x2: px + half, y2: pMed[1]}, style: {stroke: '#333', lineWidth: 2}}
      ]};
    }});

  // points
  option.series.push({type: 'scatter', name: LEGEND_NAMES[1], xAxisIndex: i, yAxisIndex: i, z: 2, silent: true,
    symbol: 'circle', symbolSize: 5.8, itemStyle: {color: '#959595', opacity: 1},
    data: P.mss.map(p => [p[0] + p[1], p[2]])});
  option.series.push({type: 'scatter', name: LEGEND_NAMES[0], xAxisIndex: i, yAxisIndex: i, z: 3, silent: true,
    symbol: 'triangle', symbolSize: [8, 7], itemStyle: {color: '#000', opacity: 1},
    data: P.msi.map(p => [p[0] + p[1], p[2]])});

  // significance brackets
  option.series.push({type: 'custom', xAxisIndex: i, yAxisIndex: i, z: 4, silent: true,
    data: P.sig.map((s, k) => [s[0], s[1], P.bars[k]]),
    renderItem: (params, api) => {
      const p1 = api.coord([api.value(0), api.value(2)]);
      const p2 = api.coord([api.value(1), api.value(2)]);
      const y = Math.round(p1[1]) + 0.5;
      const x1 = Math.round(p1[0]) + 0.5, x2 = Math.round(p2[0]) + 0.5;
      return {type: 'group', children: [
        {type: 'polyline', shape: {points: [[x1, y + 6.5], [x1, y], [x2, y], [x2, y + 6.5]]},
          style: {stroke: '#555', lineWidth: 1, fill: 'none'}},
        {type: 'text', style: {text: P.sig[params.dataIndex][2], x: (x1 + x2) / 2, y: y - LABEL_LIFT[params.dataIndex],
          align: 'center', verticalAlign: 'middle', fontSize: 20, fontFamily: FONT, fill: '#000'}}
      ]};
    }});
});

const chart = echarts.init(document.getElementById('c'), null, {renderer: 'canvas', width: 792, height: 1102});
chart.setOption(option);
</script>
</body></html>
